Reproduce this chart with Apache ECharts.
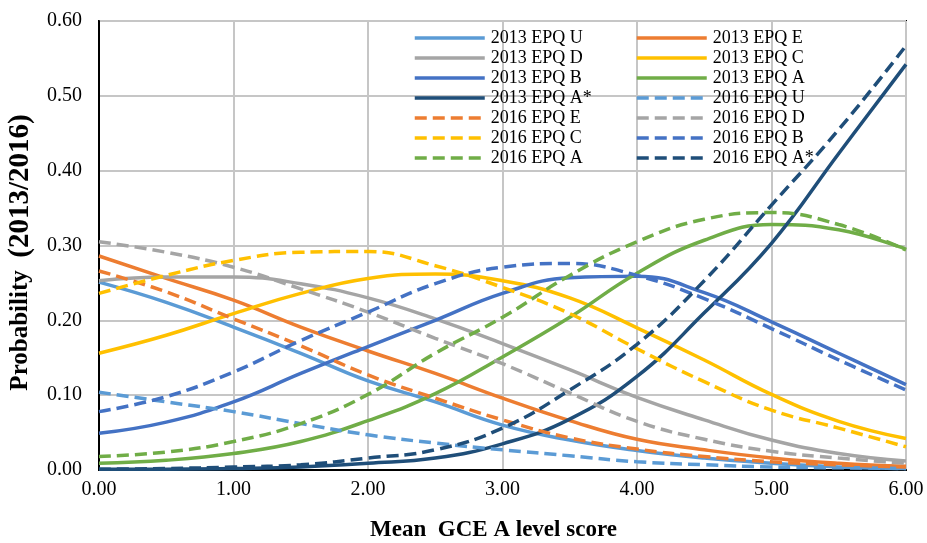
<!DOCTYPE html>
<html>
<head>
<meta charset="utf-8">
<script src="https://cdn.jsdelivr.net/npm/echarts@6/dist/echarts.min.js"></script>
<style>
html,body{margin:0;padding:0;background:#fff;}
#chart{width:927px;height:543px;}
</style>
</head>
<body>
<div id="chart"></div>
<script>
// x positions (mean GCE A level score)
const xValues = [0, 0.5, 1, 1.5, 2, 2.5, 3, 3.5, 4, 4.5, 5, 5.5, 6];

// series names
const seriesNames = [
  '2013 EPQ U', '2013 EPQ E', '2013 EPQ D', '2013 EPQ C', '2013 EPQ B', '2013 EPQ A', '2013 EPQ A*',
  '2016 EPQ U', '2016 EPQ E', '2016 EPQ D', '2016 EPQ C', '2016 EPQ B', '2016 EPQ A', '2016 EPQ A*'
];

// probabilities
const epq2013U  = [0.251, 0.224, 0.191, 0.156, 0.119, 0.091, 0.060, 0.040, 0.026, 0.016, 0.009, 0.004, 0.002];
const epq2013E  = [0.286, 0.256, 0.227, 0.191, 0.159, 0.129, 0.096, 0.066, 0.041, 0.027, 0.016, 0.009, 0.005];
const epq2013D  = [0.253, 0.258, 0.258, 0.249, 0.230, 0.202, 0.169, 0.134, 0.097, 0.067, 0.040, 0.022, 0.012];
const epq2013C  = [0.156, 0.180, 0.209, 0.236, 0.256, 0.262, 0.253, 0.230, 0.190, 0.147, 0.101, 0.065, 0.042];
const epq2013B  = [0.049, 0.064, 0.091, 0.129, 0.165, 0.200, 0.236, 0.257, 0.259, 0.237, 0.198, 0.156, 0.114];
const epq2013A  = [0.009, 0.013, 0.022, 0.038, 0.066, 0.102, 0.151, 0.204, 0.263, 0.307, 0.328, 0.321, 0.295];
const epq2013As = [0.001, 0.001, 0.002, 0.004, 0.009, 0.016, 0.035, 0.068, 0.125, 0.210, 0.303, 0.423, 0.542];
const epq2016U  = [0.104, 0.091, 0.078, 0.062, 0.047, 0.036, 0.027, 0.019, 0.011, 0.007, 0.004, 0.003, 0.002];
const epq2016E  = [0.266, 0.238, 0.202, 0.166, 0.127, 0.096, 0.067, 0.043, 0.028, 0.018, 0.011, 0.007, 0.004];
const epq2016D  = [0.305, 0.291, 0.271, 0.242, 0.211, 0.176, 0.142, 0.103, 0.065, 0.041, 0.025, 0.016, 0.009];
const epq2016C  = [0.236, 0.260, 0.280, 0.291, 0.292, 0.273, 0.244, 0.209, 0.162, 0.118, 0.080, 0.056, 0.031];
const epq2016B  = [0.078, 0.098, 0.131, 0.173, 0.211, 0.249, 0.271, 0.276, 0.260, 0.229, 0.189, 0.147, 0.107];
const epq2016A  = [0.018, 0.024, 0.038, 0.062, 0.101, 0.156, 0.204, 0.260, 0.305, 0.335, 0.344, 0.328, 0.294];
const epq2016As = [0.001, 0.002, 0.004, 0.007, 0.016, 0.027, 0.056, 0.107, 0.168, 0.253, 0.354, 0.455, 0.567];

const seriesValues = [epq2013U, epq2013E, epq2013D, epq2013C, epq2013B, epq2013A, epq2013As,
                      epq2016U, epq2016E, epq2016D, epq2016C, epq2016B, epq2016A, epq2016As];

const gradeColors = ['#5B9BD5', '#ED7D31', '#A5A5A5', '#FFC000', '#4472C4', '#70AD47', '#1F4E79'];
const colorsByIndex = [
  gradeColors[0], gradeColors[1], gradeColors[2], gradeColors[3], gradeColors[4], gradeColors[5], gradeColors[6],
  gradeColors[0], gradeColors[1], gradeColors[2], gradeColors[3], gradeColors[4], gradeColors[5], gradeColors[6]
];

const FONT = "'Liberation Serif', 'Times New Roman', serif";
const LINE_W = 3.5;

const series = seriesNames.map((name, i) => ({
  name: name,
  type: 'line',
  smooth: 0.45,
  symbol: 'none',
  showSymbol: false,
  data: xValues.map((x, j) => [x, seriesValues[i][j]]),
  lineStyle: { color: colorsByIndex[i], width: LINE_W, type: i >= 7 ? [12, 6] : 'solid', cap: 'butt' },
  itemStyle: { color: colorsByIndex[i] },
  emphasis: { disabled: true },
  z: 2 + i
}));

const legendLeftNames = seriesNames.filter((_, i) => i % 2 === 0);
const legendRightNames = seriesNames.filter((_, i) => i % 2 === 1);

const legendBase = {
  orient: 'vertical',
  top: 29,
  padding: 0,
  itemWidth: 70,
  itemHeight: 14,
  itemGap: 2,
  itemStyle: { opacity: 0 },
  lineStyle: { width: LINE_W },
  textStyle: { fontFamily: FONT, fontSize: 18, color: '#000', padding: [0, 0, 0, 1] },
  selectedMode: false
};

const chart = echarts.init(document.getElementById('chart'), null, { renderer: 'canvas' });
chart.setOption({
  animation: false,
  backgroundColor: '#fff',
  grid: {
    left: 99, right: 21, top: 21, bottom: 73,
    outerBoundsMode: 'none',
    containLabel: false,
    show: true, borderColor: '#000', borderWidth: 2, backgroundColor: 'transparent'
  },
  legend: [
    Object.assign({}, legendBase, { left: 413, data: legendLeftNames }),
    Object.assign({}, legendBase, { left: 635, data: legendRightNames })
  ],
  xAxis: {
    type: 'value',
    min: 0, max: 6, interval: 1,
    name: 'Mean  GCE A level score',
    nameLocation: 'middle',
    nameGap: 49,
    nameTextStyle: { fontFamily: FONT, fontSize: 23, fontWeight: 'bold', color: '#000', padding: [0, 18, 0, 0] },
    axisLine: { show: true, lineStyle: { color: '#000', width: 2 } },
    axisTick: { show: false },
    axisLabel: { fontFamily: FONT, fontSize: 20, color: '#000', margin: 10, formatter: v => v.toFixed(2) },
    splitLine: { show: true, lineStyle: { color: '#C6C6C6', width: 2 } }
  },
  yAxis: {
    type: 'value',
    min: 0, max: 0.6, interval: 0.1,
    name: '{a|Probability}  {b|(2013/2016)}',
    nameLocation: 'middle',
    nameGap: 64,
    nameRotate: 90,
    nameTextStyle: {
      fontFamily: FONT, fontSize: 25, fontWeight: 'bold', color: '#000', padding: [0, 14, 0, 0],
      rich: {
        a: { fontFamily: FONT, fontSize: 25, fontWeight: 'bold', color: '#000' },
        b: { fontFamily: FONT, fontSize: 29, fontWeight: 'bold', color: '#000' }
      }
    },
    axisLine: { show: true, lineStyle: { color: '#000', width: 2 } },
    axisTick: { show: false },
    axisLabel: { fontFamily: FONT, fontSize: 20, color: '#000', margin: 17, formatter: v => v.toFixed(2) },
    splitLine: { show: true, lineStyle: { color: '#C6C6C6', width: 2 } }
  },
  series: series
});
</script>
</body>
</html>
